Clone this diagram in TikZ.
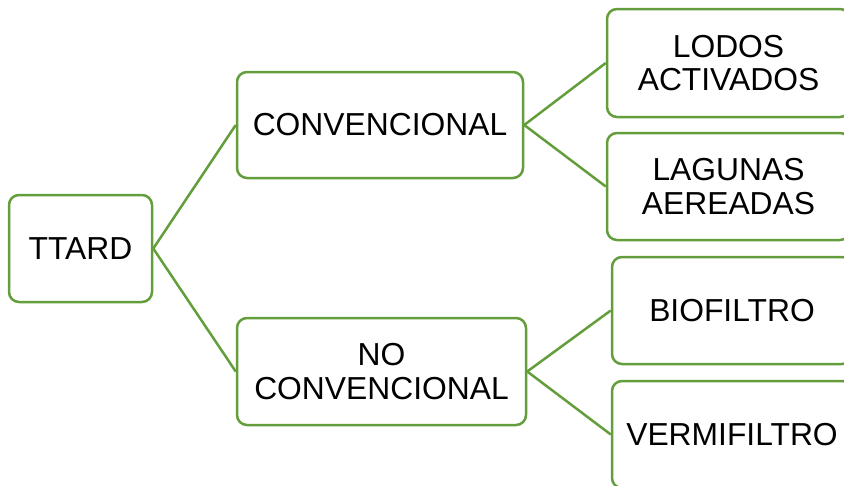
\documentclass[tikz,border=0pt]{standalone}
\usepackage{fontspec}
\setmainfont{Liberation Sans}
\definecolor{boxgreen}{RGB}{100,158,60}
\begin{document}
\begin{tikzpicture}[x=1pt,y=-1pt,
  box/.style={draw=boxgreen, line width=2.5pt, rounded corners=10pt, fill=white,
    rectangle, inner sep=0pt, align=center, text=black,
    font=\fontsize{31.8}{33.5}\selectfont},
  link/.style={draw=boxgreen, line width=2.5pt}]
\useasboundingbox (0,0) rectangle (844,485);
\clip (0,0) rectangle (844,485);
\node[box, minimum width=143pt, minimum height=107pt] (ttard) at (80.5,248.5) {TTARD};
\node[box, minimum width=286pt, minimum height=106pt] (conv) at (380,125) {CONVENCIONAL};
\node[box, minimum width=289pt, minimum height=107pt] (noconv) at (381.5,371.5) {NO\\CONVENCIONAL};
\node[box, minimum width=243pt, minimum height=108pt] (lodos) at (728.5,63) {LODOS\\ACTIVADOS};
\node[box, minimum width=243pt, minimum height=107pt] (lagunas) at (728.5,186.5) {LAGUNAS\\AEREADAS};
\node[box, minimum width=240pt, minimum height=107pt] (bio) at (732,310.5) {BIOFILTRO};
\node[box, minimum width=240pt, minimum height=107pt] (verm) at (732,434.5) {VERMIFILTRO};
\draw[link] (ttard.east) -- (conv.west);
\draw[link] (ttard.east) -- (noconv.west);
\draw[link] (conv.east) -- (lodos.west);
\draw[link] (conv.east) -- (lagunas.west);
\draw[link] (noconv.east) -- (bio.west);
\draw[link] (noconv.east) -- (verm.west);
\end{tikzpicture}
\end{document}
